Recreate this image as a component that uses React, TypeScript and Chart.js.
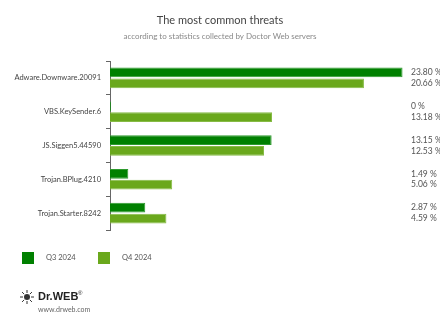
import React, { useEffect, useRef } from "react";
import { Chart, registerables } from "chart.js";

Chart.register(...registerables);

const categories = [
  "Adware.Downware.20091",
  "VBS.KeySender.6",
  "JS.Siggen5.44590",
  "Trojan.BPlug.4210",
  "Trojan.Starter.8242",
];
const seriesNames = ["Q3 2024", "Q4 2024"];
const q3Values = [23.8, 0, 13.15, 1.49, 2.87];
const q4Values = [20.66, 13.18, 12.53, 5.06, 4.59];
const seriesColors = ["#008000", "#6aa81c"];
const titleText = "The most common threats";
const subtitleText = "according to statistics collected by Doctor Web servers";

const FONT = "Lato";

const fmt = (v: number) => (v === 0 ? "0 %" : v.toFixed(2) + " %");

const extrasPlugin = {
  id: "extras",
  afterDatasetsDraw(chart: any) {
    const ctx = chart.ctx;
    const area = chart.chartArea;
    ctx.save();
    ctx.textBaseline = "middle";
    ctx.textAlign = "center";
    ctx.fillStyle = "#444";
    ctx.font = `11px ${FONT}`;
    ctx.fillText(titleText, 220, 20);
    ctx.fillStyle = "#888";
    ctx.font = `8px ${FONT}`;
    ctx.fillText(subtitleText, 220, 36);

    ctx.textAlign = "left";
    ctx.font = `8.5px ${FONT}`;
    ctx.fillStyle = "#555";
    chart.data.datasets.forEach((ds: any, di: number) => {
      const meta = chart.getDatasetMeta(di);
      meta.data.forEach((bar: any, i: number) => {
        ctx.fillText(fmt(ds.data[i]), area.right + 6, bar.y);
      });
    });
    const legendX = [22, 98];
    chart.data.datasets.forEach((ds: any, di: number) => {
      const x = legendX[di];
      ctx.fillStyle = ds.backgroundColor;
      ctx.fillRect(x, 252, 12, 12);
      ctx.fillStyle = "#555";
      ctx.font = `7.5px ${FONT}`;
      ctx.fillText(ds.label, x + 24, 258);
    });
    const cx = 27, cy = 297;
    ctx.strokeStyle = "#333";
    ctx.fillStyle = "#333";
    ctx.lineWidth = 1;
    ctx.beginPath();
    ctx.arc(cx, cy, 3, 0, Math.PI * 2);
    ctx.fill();
    for (let k = 0; k < 8; k++) {
      const a = (k * Math.PI) / 4;
      ctx.beginPath();
      ctx.moveTo(cx + Math.cos(a) * 4, cy + Math.sin(a) * 4);
      ctx.lineTo(cx + Math.cos(a) * 7, cy + Math.sin(a) * 7);
      ctx.stroke();
    }
    ctx.fillStyle = "#222";
    ctx.font = `bold 11px "Liberation Sans"`;
    ctx.fillText("Dr.WEB", 38, 297);
    ctx.font = `6px "Liberation Sans"`;
    ctx.fillText("®", 78, 293);
    ctx.fillStyle = "#666";
    ctx.font = `7px ${FONT}`;
    ctx.fillText("www.drweb.com", 38, 310);
    ctx.restore();
  },
};

export default function App() {
  const ref = useRef<HTMLCanvasElement>(null);
  useEffect(() => {
    const chart = new Chart(ref.current!, {
      type: "bar",
      data: {
        labels: categories,
        datasets: [
          {
            label: seriesNames[0],
            data: q3Values,
            backgroundColor: seriesColors[0],
            borderColor: "#2e9a2e",
            borderWidth: 1,
            minBarLength: 1,
            categoryPercentage: 0.64,
            barPercentage: 0.9,
          },
          {
            label: seriesNames[1],
            data: q4Values,
            backgroundColor: seriesColors[1],
            borderColor: "#86bb45",
            borderWidth: 1,
            categoryPercentage: 0.64,
            barPercentage: 0.9,
          },
        ],
      },
      options: {
        indexAxis: "y",
        animation: false,
        responsive: false,
        maintainAspectRatio: false,
        layout: { padding: { top: 61, left: 10, right: 35, bottom: 94 } },
        plugins: {
          legend: { display: false },
          tooltip: { enabled: false },
        },
        scales: {
          x: { display: false, min: 0, max: 24 },
          y: {
            afterFit(scale: any) {
              scale.width = 100;
            },
            border: { display: true, color: "#666", width: 1 },
            grid: {
              display: true,
              drawOnChartArea: false,
              drawTicks: true,
              tickLength: 4,
              color: "#666",
              offset: true,
            },
            ticks: {
              color: "#444",
              font: { family: FONT, size: 7.5 },
              padding: 5,
            },
          },
        },
      },
      plugins: [extrasPlugin],
    } as any);
    return () => chart.destroy();
  }, []);
  return (
    <div style={{ position: "fixed", left: 0, top: 0, width: 440, height: 324, background: "#fff" }}>
      <canvas ref={ref} width={440} height={324} style={{ width: 440, height: 324 }} />
    </div>
  );
}
